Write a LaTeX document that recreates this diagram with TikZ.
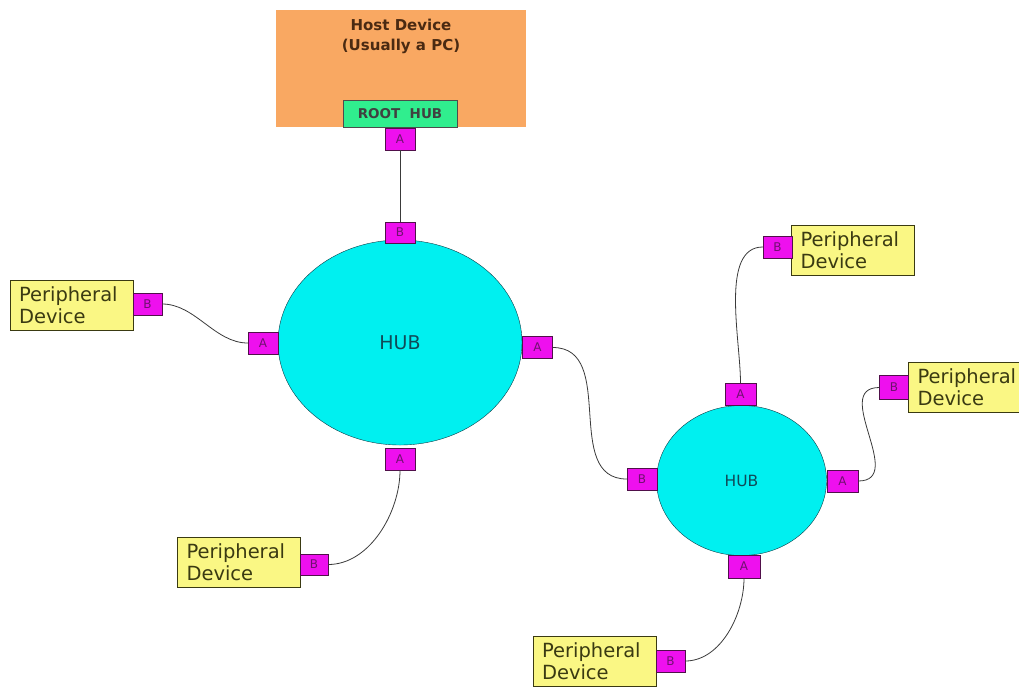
\documentclass[tikz,border=0pt]{standalone}
\usepackage{fontspec}
\setmainfont{DejaVu Sans}
\usepackage{xcolor}
\usepackage{tikz}
\usetikzlibrary{shapes.geometric}
\definecolor{hostfill}{HTML}{F9A862}
\definecolor{hosttext}{HTML}{4A2A12}
\definecolor{rootfill}{HTML}{30EE8E}
\definecolor{portfill}{HTML}{EE10EE}
\definecolor{portline}{HTML}{50104A}
\definecolor{porttext}{HTML}{701070}
\definecolor{hubfill}{HTML}{00F0F0}
\definecolor{hubtext}{HTML}{104A58}
\definecolor{devfill}{HTML}{FAF784}
\definecolor{devtext}{HTML}{3A3A12}
\definecolor{wire}{HTML}{3A3A3A}
\tikzset{
  hostBox/.style={draw=none, fill=hostfill, minimum width=250pt, minimum height=117pt, inner sep=0pt},
  hostLabel/.style={text=hosttext, font=\fontsize{15}{20}\selectfont\bfseries, align=center},
  rootBox/.style={draw=black!70, fill=rootfill, minimum width=114pt, minimum height=27pt, inner sep=0pt,
    text=black!75, font=\fontsize{13.5}{13.5}\selectfont\bfseries},
  port/.style={draw=portline, fill=portfill, minimum width=30pt, minimum height=22pt, inner sep=0pt,
    text=porttext, font=\fontsize{12}{12}\selectfont},
  hub/.style={ellipse, draw=hubtext!80!black, fill=hubfill, inner sep=0pt, text=hubtext},
  device/.style={draw=devtext, fill=devfill, minimum width=123pt, minimum height=50pt,
    text width=105pt, inner xsep=9pt, align=left, text=devtext,
    font=\fontsize{19.5}{22}\selectfont},
  wireLine/.style={draw=wire, line width=0.8pt}
}
\begin{document}
\begin{tikzpicture}[x=1pt, y=-1pt]
  \useasboundingbox (0,0) rectangle (1019,686);
  \clip (0,0) rectangle (1019,686);

  % host
  \node[hostBox] (host) at (401,68.5) {};
  \node[hostLabel] (hostText) at (401,36) {Host Device\\(Usually a PC)};
  \node[rootBox] (root) at (400,113.5) {ROOT\ \ HUB};
  \node[port] (rootA) at (400,139) {A};

  % first hub
  \node[hub, minimum width=244pt, minimum height=205pt, font=\fontsize{19}{19}\selectfont] (hubOne) at (400,342.5) {HUB};
  \node[port, minimum height=21pt] (hubOneB) at (400,232.5) {B};
  \node[port] (hubOneW) at (263,343) {A};
  \node[port] (hubOneE) at (537.5,347.5) {A};
  \node[port] (hubOneS) at (400,459) {A};

  % second hub
  \node[hub, minimum width=170pt, minimum height=150pt, font=\fontsize{15.5}{15.5}\selectfont] (hubTwo) at (741.5,480.5) {HUB};
  \node[port, minimum width=31pt] (hubTwoN) at (740.5,394) {A};
  \node[port] (hubTwoW) at (642,479) {B};
  \node[port, minimum width=31pt] (hubTwoE) at (842.5,481) {A};
  \node[port, minimum width=32pt, minimum height=23pt] (hubTwoS) at (744,566.5) {A};

  % peripheral devices
  \node[device] (devW) at (71.5,305) {Peripheral\\Device};
  \node[port, minimum width=29pt] (devWB) at (147.5,304) {B};
  \node[device] (devSW) at (239,562.5) {Peripheral\\Device};
  \node[port, minimum width=28pt, minimum height=21pt] (devSWB) at (314,564.5) {B};
  \node[device] (devNE) at (853,250) {Peripheral\\Device};
  \node[port, minimum width=29pt] (devNEB) at (777.5,247) {B};
  \node[device] (devE) at (970,387) {Peripheral\\Device};
  \node[port, minimum width=29pt, minimum height=24pt] (devEB) at (894,387.5) {B};
  \node[device] (devS) at (594.5,661) {Peripheral\\Device};
  \node[port, minimum width=29pt] (devSB) at (670.5,661) {B};

  % cables
  \draw[wireLine] (rootA.south) -- (hubOneB.north);
  \draw[wireLine] (devWB.east) to[out=0, in=180, looseness=0.9] (hubOneW.west);
  \draw[wireLine] (hubOneE.east) to[out=0, in=180, looseness=1.1] (hubTwoW.west);
  \draw[wireLine] (hubOneS.south) to[out=-90, in=0, looseness=0.9] (devSWB.east);
  \draw[wireLine] (hubTwoN.north) to[out=90, in=180, looseness=0.8] (devNEB.west);
  \draw[wireLine] (hubTwoE.east) to[out=0, in=180, looseness=1.3] (devEB.west);
  \draw[wireLine] (hubTwoS.south) to[out=-90, in=0, looseness=0.9] (devSB.east);
\end{tikzpicture}
\end{document}
